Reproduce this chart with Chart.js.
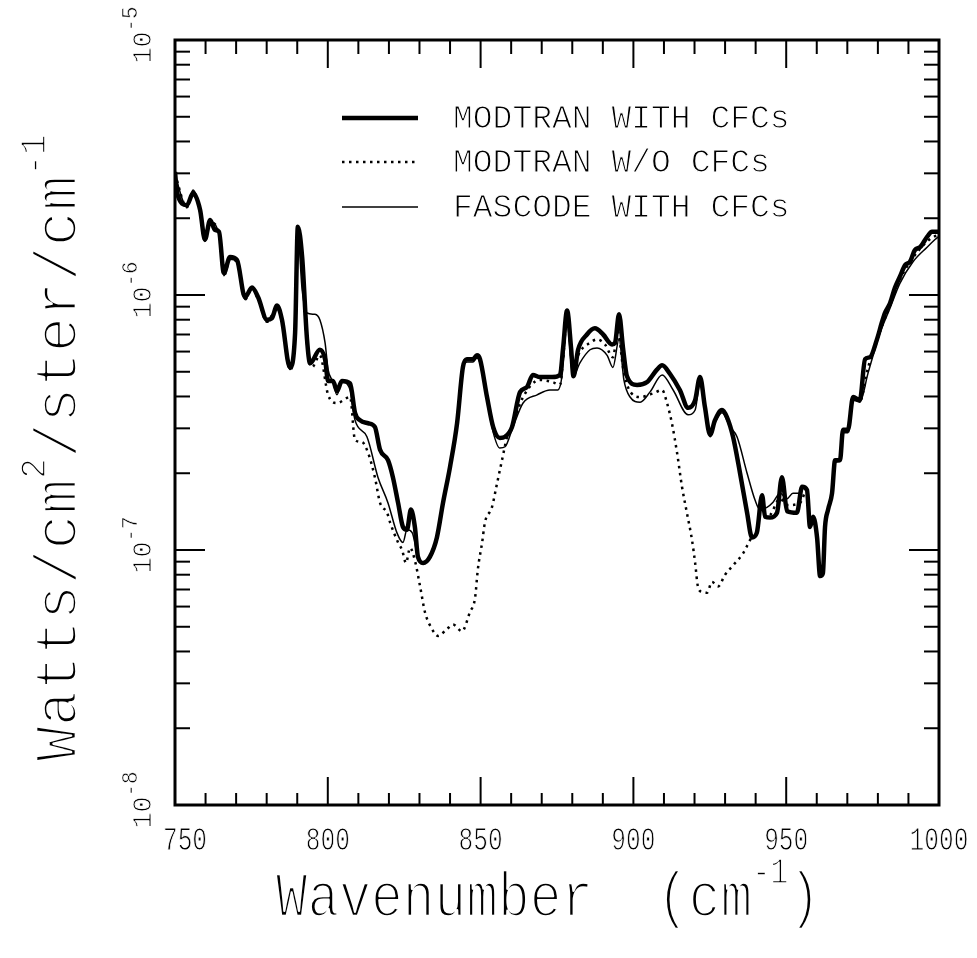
<!DOCTYPE html>
<html>
<head>
<meta charset="utf-8">
<script src="https://cdn.jsdelivr.net/npm/chart.js@4.4.1/dist/chart.umd.min.js"></script>
<style>
  html, body { margin: 0; padding: 0; background: #fff; }
  #wrap { width: 977px; height: 958px; }
</style>
</head>
<body>
<div id="wrap"><canvas id="spectrum" width="977" height="958"></canvas></div>
<script>
// wavenumber (cm-1), radiance (W/cm2/ster/cm-1)
var modtranWith = [
  [750,3.04e-6],[750.7,2.51e-6],[753.9,2.25e-6],[755.9,2.51e-6],[758.2,2.16e-6],[759.8,1.65e-6],[761.5,1.97e-6],[763.1,1.80e-6],
  [764.4,1.77e-6],[766,1.22e-6],[768,1.41e-6],[770.3,1.37e-6],[772.9,9.8e-7],[775.2,1.07e-6],[777.2,9.8e-7],[780.1,8.0e-7],
  [781.7,8.1e-7],[783.4,9.1e-7],[785,8.0e-7],[787.6,5.2e-7],[789.3,7.1e-7],[790.2,1.85e-6],[791.6,1.41e-6],[793.2,6.7e-7],
  [794.2,5.4e-7],[797.4,6.1e-7],[799.1,5.6e-7],[800.1,4.6e-7],[801.7,4.6e-7],[803,4.2e-7],[804.6,4.6e-7],[807.3,4.5e-7],
  [808.9,3.45e-7],[810.5,3.23e-7],[813.2,3.14e-7],[815.4,3.04e-7],[817.1,2.47e-7],[819.7,2.25e-7],[821.3,1.93e-7],[823,1.53e-7],
  [824.6,1.23e-7],[825.9,1.20e-7],[827.2,1.44e-7],[828.5,1.23e-7],[829.5,9.4e-8],[831.2,8.9e-8],[833.4,9.4e-8],[835.7,1.12e-7],
  [837.7,1.53e-7],[840,2.12e-7],[842.3,3.14e-7],[844.2,5.2e-7],[845.5,5.6e-7],[847.5,5.6e-7],[848.8,5.8e-7],[849.8,5.6e-7],
  [852.1,3.98e-7],[854.1,3.04e-7],[856.3,2.75e-7],[858,2.78e-7],[860.3,3.04e-7],[862.9,4.16e-7],[865.2,4.36e-7],[867.1,4.86e-7],
  [869.4,4.77e-7],[873.4,4.77e-7],[876,4.86e-7],[877,6.2e-7],[878.3,8.7e-7],[879.6,6.2e-7],[880.4,4.8e-7],[881.9,6.1e-7],
  [884.8,7.0e-7],[887.4,7.4e-7],[890.1,7.0e-7],[893,6.4e-7],[894,6.5e-7],[895.3,8.4e-7],[896.6,6.2e-7],[897.9,4.8e-7],
  [901.2,4.44e-7],[904.5,4.56e-7],[907.7,5.1e-7],[909.4,5.3e-7],[912,4.9e-7],[915.2,4.24e-7],[917.9,3.61e-7],[920.2,3.87e-7],
  [921.8,4.77e-7],[923.4,3.64e-7],[925.1,2.83e-7],[926.7,3.23e-7],[929,3.54e-7],[930.6,3.32e-7],[932.6,2.78e-7],[934.9,2.0e-7],
  [937.2,1.40e-7],[938.8,1.12e-7],[940.4,1.17e-7],[942.1,1.64e-7],[943.1,1.35e-7],[944.7,1.34e-7],[947,1.40e-7],[948.6,1.93e-7],
  [950.3,1.42e-7],[953.5,1.40e-7],[955.2,1.77e-7],[956.8,1.72e-7],[957.8,1.23e-7],[958.8,1.35e-7],[960.1,1.12e-7],[961.1,7.9e-8],
  [962,8.1e-8],[962.7,1.23e-7],[963.7,1.44e-7],[965,1.67e-7],[966,2.25e-7],[967.6,2.25e-7],[968.6,2.96e-7],[970.2,2.96e-7],
  [971.9,3.98e-7],[974.1,3.87e-7],[975.8,5.6e-7],[977.4,5.7e-7],[979.7,6.7e-7],[981.3,7.8e-7],[982.3,8.5e-7],[984,9.3e-7],
  [985.6,1.07e-6],[987.2,1.18e-6],[988.9,1.31e-6],[990.5,1.35e-6],[992.1,1.50e-6],[993.8,1.54e-6],[996.1,1.69e-6],[997.7,1.77e-6],
  [1000,1.77e-6]
];
var modtranWithout = [
  [750,2.98e-6],[753.9,2.21e-6],[755.9,2.51e-6],[758.2,2.12e-6],[759.8,1.62e-6],[761.5,1.93e-6],[764.4,1.73e-6],[766,1.19e-6],
  [768,1.38e-6],[770.3,1.35e-6],[772.9,9.6e-7],[775.2,1.06e-6],[777.2,9.6e-7],[780.1,7.85e-7],[783.4,8.9e-7],[785,7.85e-7],
  [787.6,5.1e-7],[789.3,7.0e-7],[790.2,1.80e-6],[791.6,1.37e-6],[793.2,6.4e-7],[794.8,5.2e-7],[797.4,5.8e-7],[800.1,4.06e-7],
  [803,3.77e-7],[807.3,3.98e-7],[808.9,2.70e-7],[811.2,2.65e-7],[813.2,2.40e-7],[815.4,1.93e-7],[817.1,1.53e-7],[819.4,1.40e-7],
  [820.4,1.28e-7],[823,1.07e-7],[824.3,1.0e-7],[825.6,8.9e-8],[826.9,1.02e-7],[828.5,9.1e-8],[830.2,7.2e-8],[831.8,5.7e-8],
  [834.1,4.9e-8],[836.1,4.6e-8],[839,4.9e-8],[841,5.1e-8],[843.9,4.8e-8],[846.5,5.7e-8],[848.2,6.5e-8],[849.1,8.4e-8],
  [850.5,1.07e-7],[851.4,1.28e-7],[853.7,1.47e-7],[855.4,1.83e-7],[857,2.25e-7],[858.6,2.75e-7],[860.6,3.14e-7],[863.9,3.98e-7],
  [869.4,4.64e-7],[873.4,4.56e-7],[876,4.44e-7],[877,5.6e-7],[878.3,8.2e-7],[880.2,5.2e-7],[882.5,6.0e-7],[885.8,6.5e-7],
  [888.1,6.7e-7],[890.7,6.4e-7],[893.3,5.7e-7],[894.9,7.2e-7],[896.6,5.2e-7],[898.2,4.36e-7],[902.2,3.98e-7],[906.4,4.11e-7],
  [909.4,4.24e-7],[911,3.77e-7],[912.6,3.14e-7],[914.3,2.40e-7],[915.9,1.77e-7],[917.5,1.40e-7],[919.2,1.09e-7],[920.2,8.9e-8],
  [921.1,7.2e-8],[922.4,6.85e-8],[924.1,6.8e-8],[925.7,7.5e-8],[927.7,7.2e-8],[930,8.0e-8],[932.6,8.7e-8],[935.9,9.7e-8],
  [938.8,1.12e-7],[940.4,1.17e-7],[942.1,1.59e-7],[943.1,1.35e-7],[944.7,1.37e-7],[948,1.59e-7],[950.3,1.50e-7],[954.5,1.53e-7],
  [956.8,1.72e-7],[957.8,1.23e-7],[958.8,1.35e-7],[960.1,1.12e-7],[961.1,7.9e-8],[962,8.1e-8],[962.7,1.23e-7],[963.7,1.44e-7],
  [965,1.65e-7],[966,2.23e-7],[967.6,2.24e-7],[968.6,2.90e-7],[970.2,2.90e-7],[971.9,3.91e-7],[974.1,3.84e-7],[976.8,5.2e-7],
  [980.7,7.2e-7],[984,9.1e-7],[987.2,1.15e-6],[991.5,1.40e-6],[996.1,1.62e-6],[998.7,1.70e-6],[1000,1.72e-6]
];
var fascodeWith = [
  [750,2.95e-6],[753.9,2.21e-6],[755.9,2.58e-6],[758.2,2.12e-6],[759.8,1.62e-6],[761.5,1.93e-6],[764.4,1.72e-6],[766,1.19e-6],
  [768,1.38e-6],[770.3,1.35e-6],[772.9,9.6e-7],[775.2,1.06e-6],[777.2,9.6e-7],[780.1,7.85e-7],[783.4,8.9e-7],[785,7.85e-7],
  [787.6,5.1e-7],[789.3,7.0e-7],[790.2,1.72e-6],[791.6,1.05e-6],[793.2,8.5e-7],[795.8,8.4e-7],[797.4,8.0e-7],[799.1,6.5e-7],
  [800.1,5.1e-7],[801.7,4.56e-7],[803,4.06e-7],[804.6,4.56e-7],[807.3,4.24e-7],[808.9,3.23e-7],[812.8,2.78e-7],[816.4,1.93e-7],
  [819.7,1.53e-7],[822.6,1.17e-7],[824.6,1.07e-7],[825.9,1.20e-7],[827.6,1.17e-7],[829.5,9.4e-8],[831.2,8.9e-8],[833.4,9.4e-8],
  [835.7,1.12e-7],[837.7,1.53e-7],[840,2.12e-7],[842.3,3.14e-7],[844.2,5.1e-7],[845.5,5.46e-7],[847.5,5.46e-7],[848.8,5.66e-7],
  [849.8,5.42e-7],[852.1,3.87e-7],[854.1,2.90e-7],[856.3,2.51e-7],[858,2.54e-7],[860.6,3.04e-7],[863.9,3.77e-7],[868.5,4.06e-7],
  [872.7,4.24e-7],[875.3,4.24e-7],[876.6,4.77e-7],[878.3,7.8e-7],[880.2,4.77e-7],[882.5,5.42e-7],[885.8,6.1e-7],[888.1,6.2e-7],
  [891.4,5.8e-7],[893.3,5.2e-7],[895.3,6.7e-7],[896.9,4.64e-7],[898.9,3.98e-7],[902.2,3.80e-7],[905.4,4.16e-7],[909.4,4.86e-7],
  [913,4.24e-7],[917.9,3.39e-7],[920.2,3.54e-7],[921.8,4.52e-7],[923.4,3.54e-7],[925.1,2.78e-7],[926.7,3.14e-7],[929,3.45e-7],
  [931.6,3.04e-7],[933.9,2.78e-7],[937.2,2.0e-7],[939.8,1.57e-7],[941.4,1.44e-7],[943.7,1.47e-7],[945.7,1.54e-7],[948,1.67e-7],
  [950.3,1.59e-7],[952.2,1.67e-7],[954.5,1.67e-7],[955.2,1.77e-7],[956.8,1.72e-7],[957.8,1.23e-7],[958.8,1.35e-7],[960.1,1.12e-7],
  [961.1,7.9e-8],[962,8.1e-8],[962.7,1.23e-7],[963.7,1.44e-7],[965,1.64e-7],[966,2.21e-7],[967.6,2.23e-7],[968.6,2.88e-7],
  [970.2,2.88e-7],[971.9,3.87e-7],[974.1,3.80e-7],[976.8,4.95e-7],[980.7,7.1e-7],[984,8.9e-7],[987.2,1.11e-6],[991.5,1.35e-6],
  [996.1,1.54e-6],[998.7,1.65e-6],[1000,1.70e-6]
];

var seriesNames = ["MODTRAN WITH CFCs", "MODTRAN W/O CFCs", "FASCODE WITH CFCs"];
var xTicks = [750, 800, 850, 900, 950, 1000];
var yDecades = [-8, -7, -6, -5];

var FONT = '"Liberation Mono", "DejaVu Sans Mono", monospace';

function toPoints(arr) {
  return arr.map(function (p) { return { x: p[0], y: p[1] }; });
}

// text with superscript pieces: parts = [[text, isSup], ...]
// o.thin erodes the glyphs with a white outline to get the thin plotter look
function drawRich(c, parts, o) {
  c.save();
  c.translate(o.x, o.y);
  if (o.rot) c.rotate(o.rot);
  c.scale(o.sx || 1, 1);
  var supSize = o.supSize || o.size * 0.6;
  var ws = parts.map(function (p) {
    c.font = (p[1] ? supSize : o.size) + "px " + FONT;
    return c.measureText(p[0]).width;
  });
  var total = ws.reduce(function (a, b) { return a + b; }, 0);
  var cx = o.align === "center" ? -total / 2 : 0;
  c.fillStyle = "#000";
  c.strokeStyle = "#fff";
  c.lineJoin = "round";
  c.textAlign = "left";
  c.textBaseline = "alphabetic";
  parts.forEach(function (p, i) {
    c.font = (p[1] ? supSize : o.size) + "px " + FONT;
    var ty = p[1] ? -o.raise : 0;
    c.fillText(p[0], cx, ty);
    if (o.thin) {
      c.lineWidth = p[1] ? o.thin * 0.6 : o.thin;
      c.strokeText(p[0], cx, ty);
    }
    cx += ws[i];
  });
  c.restore();
}

function seg(c, x1, y1, x2, y2) {
  c.beginPath();
  c.moveTo(x1, y1);
  c.lineTo(x2, y2);
  c.stroke();
}

var frame = {
  id: "frame",
  afterDraw: function (chart) {
    var c = chart.ctx, a = chart.chartArea;
    var xs = chart.scales.x, ys = chart.scales.y;
    c.save();
    c.strokeStyle = "#000";

    // inward ticks
    c.lineWidth = 2;
    for (var w = 760; w < 1000; w += 10) {
      var px = xs.getPixelForValue(w);
      var major = w % 50 === 0;
      seg(c, px, a.top, px, a.top + (major ? 28 : 14));
      seg(c, px, a.bottom, px, a.bottom - (major ? 28 : 12));
    }
    for (var d = 0; d < yDecades.length - 1; d++) {
      for (var m = 1; m <= 9; m++) {
        if (m === 1 && d === 0) continue;
        var py = ys.getPixelForValue(m * Math.pow(10, yDecades[d]));
        var len = m === 1 ? 30 : 15;
        seg(c, a.left, py, a.left + len, py);
        seg(c, a.right, py, a.right - len, py);
      }
    }

    // frame
    c.lineWidth = 3;
    c.strokeRect(a.left, a.top, a.right - a.left, a.bottom - a.top);

    // x tick labels
    xTicks.forEach(function (t) {
      var px = xs.getPixelForValue(t) + (t === 750 ? 10 : 0);
      drawRich(c, [[String(t), 0]], { x: px, y: 850, size: 34, sx: 0.72, align: "center", thin: 1 });
    });

    // y tick labels, rotated
    yDecades.forEach(function (e) {
      var py = ys.getPixelForValue(Math.pow(10, e));
      drawRich(c, [["10", 0], [String(e), 1]], {
        x: 151, y: py - 5, size: 28, supSize: 22, raise: 14, sx: 0.95, rot: -Math.PI / 2, align: "center", thin: 0.9
      });
    });

    // axis titles
    drawRich(c, [["Watts/cm", 0], ["2", 1], ["/ster/cm", 0], ["-1", 1]], {
      x: 76, y: 448, size: 62, supSize: 36, raise: 31, sx: 0.95, rot: -Math.PI / 2, align: "center", thin: 2.6
    });
    drawRich(c, [["Wavenumber  (cm", 0], ["-1", 1], [")", 0]], {
      x: 548, y: 916, size: 63, supSize: 36, raise: 33, sx: 0.84, align: "center", thin: 2.6
    });

    // legend
    var rows = [118, 162, 207];
    chart.data.datasets.forEach(function (ds, i) {
      c.strokeStyle = "#000";
      c.lineWidth = ds.borderWidth;
      c.setLineDash(ds.borderDash || []);
      seg(c, 342, rows[i], 418, rows[i]);
      c.setLineDash([]);
      drawRich(c, [[ds.label, 0]], { x: 453, y: rows[i] + 10, size: 33, thin: 1.1 });
    });
    c.restore();
  }
};

new Chart(document.getElementById("spectrum"), {
  type: "line",
  data: {
    datasets: [
      { label: seriesNames[0], data: toPoints(modtranWith), borderColor: "#000", borderWidth: 4.5, order: 0 },
      { label: seriesNames[1], data: toPoints(modtranWithout), borderColor: "#000", borderWidth: 2.5, borderDash: [2.5, 4.5], order: 2 },
      { label: seriesNames[2], data: toPoints(fascodeWith), borderColor: "#000", borderWidth: 1.5, order: 1 }
    ]
  },
  options: {
    responsive: false,
    animation: false,
    layout: { padding: { left: 175, right: 38, top: 40, bottom: 153 } },
    elements: { point: { radius: 0 }, line: { cubicInterpolationMode: "monotone", fill: false } },
    scales: {
      x: { type: "linear", min: 750, max: 1000, display: false },
      y: { type: "logarithmic", min: 1e-8, max: 1e-5, display: false }
    },
    plugins: { legend: { display: false }, tooltip: { enabled: false } }
  },
  plugins: [frame]
});
</script>
</body>
</html>
